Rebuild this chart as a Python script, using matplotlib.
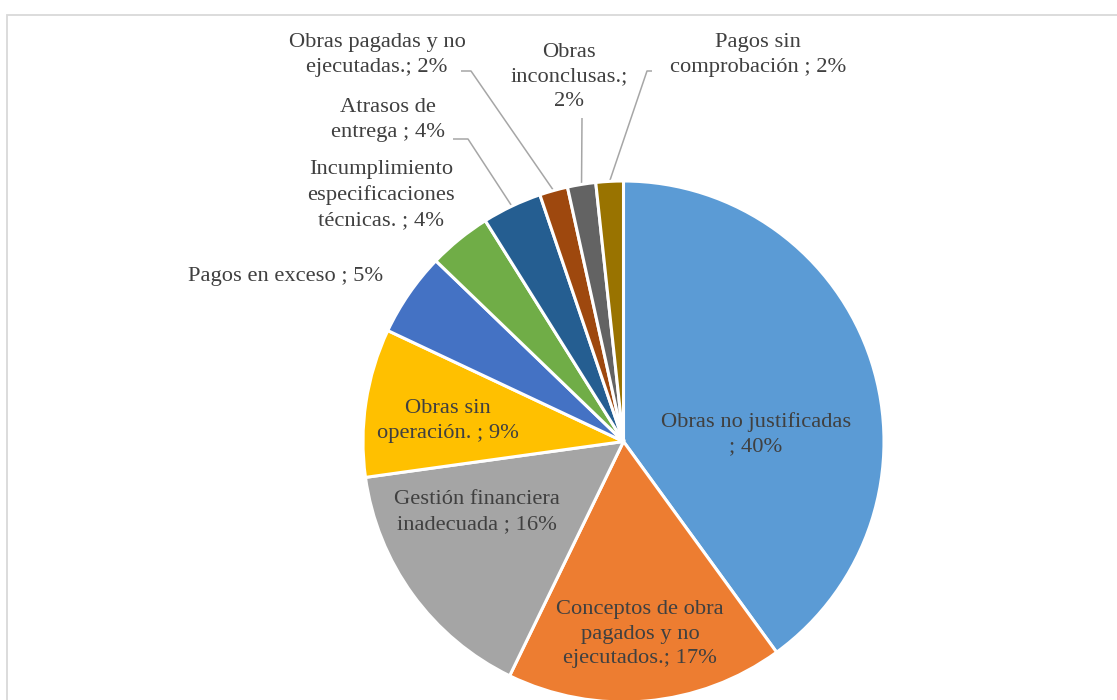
import matplotlib
matplotlib.use('Agg')
import numpy as np
import matplotlib.pyplot as plt
from matplotlib.patches import Rectangle

# ── Data ──────────────────────────────────────────────────────────────────────
categories = [
    "Obras no justificadas\n",
    "Conceptos de obra\npagados y no\nejecutados.",
    "Gestión financiera\ninadecuada ",
    "Obras sin\noperación. ",
    "Pagos en exceso ",
    "Incumplimiento\nespecificaciones\ntécnicas. ",
    "Atrasos de\nentrega ",
    "Obras pagadas y no\nejecutadas.",
    "Obras\ninconclusas.",
    "Pagos sin\ncomprobación ",
]
shares = [40.0, 17.2, 15.6, 9.2, 5.2, 3.9, 3.7, 1.75, 1.75, 1.7]
colors = ["#5B9BD5", "#ED7D31", "#A5A5A5", "#FFC000", "#4472C4",
          "#70AD47", "#255E91", "#9E480E", "#636363", "#997300"]
# text between category and percentage
pct_sep = ["; ", "; ", "; ", "; ", "; ", "; ", "; ", "; ", ";\n", "; "]

# ── Layout (pixels of the 1117x700 canvas) ────────────────────────────────────
W, H = 1117, 700
CX, CY, R = 623.5, 441.5, 260.5
label_px = [(756, 434), (640, 634), (477, 512), (448, 421), (288, 277),
            (381, 195), (388, 120), (377, 55), (569, 77), (758, 55)]
# leader line start points (None = no leader)
leader_px = [None, None, None, None, None, None,
             [(453, 139), (468, 139)], [(461, 71), (471, 71)],
             [(582, 118)], [(652, 71), (647, 71)]]

TEXT = "#404040"
LEADER = "#A6A6A6"

plt.rcParams['font.family'] = ['Liberation Serif', 'DejaVu Serif']

fig = plt.figure(figsize=(W / 100, H / 100), dpi=100, facecolor="white")
ax = fig.add_axes([(CX - R) / W, (H - CY - R) / H, 2 * R / W, 2 * R / H])

wedges, _ = ax.pie(shares, colors=colors, startangle=90, counterclock=False,
                   radius=1.0, center=(0, 0),
                   wedgeprops=dict(edgecolor="white", linewidth=2.2))
ax.set_xlim(-1, 1)
ax.set_ylim(-1, 1)
ax.axis('off')


def to_data(px, py):
    return (px - CX) / R, (CY - py) / R


total = sum(shares)
for i, (cat, val) in enumerate(zip(categories, shares)):
    pct = round(val / total * 100)
    txt = f"{cat}{pct_sep[i]}{pct}%"
    x, y = to_data(*label_px[i])
    ha = 'center'
    if i == 4:
        x, _ = to_data(383, 0)
        ha = 'right'
    ax.text(x, y, txt, ha=ha, va='center', multialignment='center',
            color=TEXT, fontsize=16.2, linespacing=1.4, clip_on=False)

    if leader_px[i] is not None:
        w = wedges[i]
        mid = np.deg2rad((w.theta1 + w.theta2) / 2)
        pts = [to_data(*p) for p in leader_px[i]]
        pts.append((np.cos(mid) * 1.0, np.sin(mid) * 1.0))
        xs, ys = zip(*pts)
        ax.plot(xs, ys, color=LEADER, lw=1.1, clip_on=False,
                solid_capstyle='butt', zorder=0.5)

# chart-area border
fig.patches.append(Rectangle((6.5 / W, -0.05), 1.1, (H - 14.5) / H + 0.05,
                             transform=fig.transFigure, fill=False,
                             edgecolor="#D9D9D9", lw=1.3, zorder=-1))

fig.savefig("out.png", dpi=100, facecolor="white")
